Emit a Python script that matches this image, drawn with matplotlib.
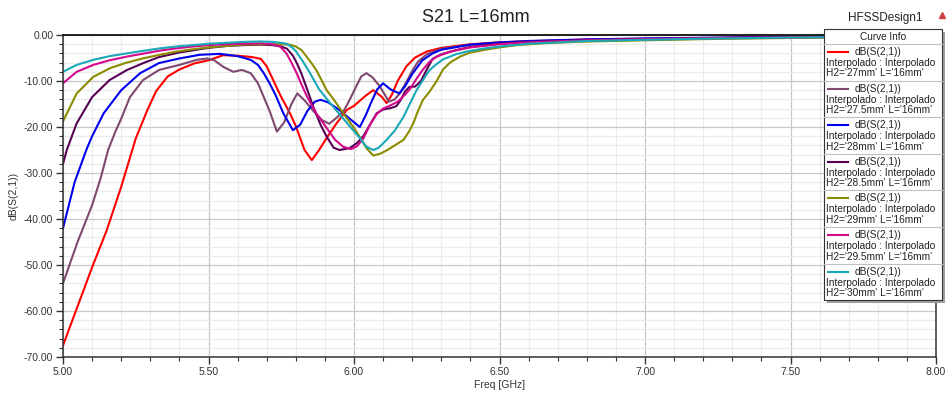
import matplotlib
matplotlib.use("Agg")
import matplotlib.pyplot as plt
from matplotlib.ticker import MultipleLocator, FormatStrFormatter
from matplotlib.lines import Line2D
from matplotlib.patches import Rectangle

plt.rcParams["font.family"] = ["Liberation Sans", "DejaVu Sans"]
plt.rcParams["axes.unicode_minus"] = False

# S21 traces (freq in GHz, magnitude in dB)
f_27 = [5.00, 5.05, 5.10, 5.15, 5.20, 5.25, 5.29, 5.32, 5.36, 5.40, 5.45, 5.50, 5.55,
        5.60, 5.65, 5.68, 5.70, 5.72, 5.75, 5.78, 5.80, 5.83, 5.855, 5.88, 5.91, 5.94,
        5.975, 6.00, 6.04, 6.066, 6.095, 6.112, 6.13, 6.15, 6.18, 6.21, 6.25, 6.30,
        6.40, 6.50, 6.60, 6.80, 7.00, 7.20, 7.50, 7.80, 8.00]
s21_27 = [-67.5, -59.0, -50.5, -42.5, -33.0, -22.5, -16.3, -12.2, -9.0, -7.5, -6.2, -5.5, -4.4,
          -4.5, -4.8, -5.2, -6.8, -9.5, -13.5, -17.0, -19.8, -25.0, -27.2, -25.0, -22.0, -19.2,
          -16.3, -15.4, -13.2, -12.0, -13.4, -14.8, -13.0, -10.0, -6.8, -4.9, -3.6, -2.8,
          -2.0, -1.6, -1.35, -1.0, -0.8, -0.65, -0.45, -0.32, -0.25]

f_275 = [5.00, 5.05, 5.10, 5.13, 5.155, 5.18, 5.20, 5.23, 5.275, 5.33, 5.40, 5.46, 5.495,
         5.52, 5.55, 5.585, 5.615, 5.645, 5.67, 5.69, 5.71, 5.735, 5.76, 5.785, 5.805, 5.83,
         5.86, 5.89, 5.915, 5.94, 5.965, 5.985, 6.005, 6.025, 6.043, 6.065, 6.09, 6.12,
         6.14, 6.16, 6.18, 6.20, 6.22, 6.25, 6.30, 6.40, 6.50, 6.60, 6.80, 7.00, 7.20,
         7.50, 7.80, 8.00]
s21_275 = [-54.0, -45.0, -37.0, -31.0, -25.0, -21.0, -18.2, -13.5, -9.8, -7.6, -6.5, -5.4, -5.1,
           -5.5, -6.9, -8.0, -7.6, -8.3, -10.5, -13.5, -16.5, -21.0, -19.0, -15.0, -12.7, -14.2,
           -16.5, -18.5, -19.3, -18.0, -16.5, -14.1, -11.5, -9.0, -8.3, -9.3, -11.3, -14.5,
           -14.0, -12.5, -10.2, -7.8, -5.8, -4.2, -3.0, -2.1, -1.7, -1.4, -1.05, -0.85, -0.7,
           -0.5, -0.35, -0.28]

f_28 = [5.00, 5.04, 5.08, 5.10, 5.14, 5.20, 5.265, 5.33, 5.40, 5.47, 5.54, 5.60, 5.645,
        5.67, 5.69, 5.71, 5.73, 5.757, 5.79, 5.815, 5.84, 5.865, 5.885, 5.91, 5.95, 5.985,
        6.02, 6.04, 6.06, 6.08, 6.10, 6.125, 6.155, 6.175, 6.20, 6.235, 6.27, 6.30, 6.40,
        6.50, 6.60, 6.80, 7.00, 7.20, 7.50, 7.80, 8.00]
s21_28 = [-42.0, -32.0, -25.0, -22.0, -17.0, -12.0, -8.3, -6.1, -5.1, -4.3, -4.1, -4.6, -5.4,
          -6.5, -8.3, -10.5, -13.0, -17.0, -20.7, -19.5, -16.5, -14.5, -14.1, -14.6, -16.3, -18.2,
          -20.0, -17.5, -14.5, -11.8, -10.5, -11.8, -12.7, -11.2, -8.5, -5.5, -4.0, -3.2, -2.1,
          -1.6, -1.3, -0.95, -0.75, -0.6, -0.42, -0.3, -0.22]

f_285 = [5.00, 5.013, 5.047, 5.10, 5.16, 5.22, 5.28, 5.33, 5.40, 5.45, 5.50, 5.56, 5.62,
         5.68, 5.72, 5.75, 5.77, 5.79, 5.805, 5.82, 5.84, 5.86, 5.885, 5.906, 5.93, 5.95,
         5.985, 6.01, 6.032, 6.055, 6.078, 6.10, 6.125, 6.145, 6.16, 6.175, 6.19, 6.21,
         6.23, 6.25, 6.27, 6.30, 6.35, 6.40, 6.50, 6.60, 6.80, 7.00, 7.20, 7.50, 7.80, 8.00]
s21_285 = [-28.0, -25.0, -19.2, -13.5, -9.8, -7.6, -6.0, -4.8, -3.8, -3.3, -2.8, -2.4, -2.2,
           -2.1, -2.2, -2.5, -3.0, -4.5, -6.3, -8.5, -12.0, -15.6, -19.5, -22.1, -24.5, -25.0,
           -24.6, -23.5, -22.0, -19.5, -17.0, -16.2, -15.9, -15.5, -14.2, -12.3, -11.3, -11.2,
           -10.0, -7.5, -5.2, -4.2, -3.3, -2.6, -1.9, -1.5, -1.1, -0.9, -0.7, -0.5, -0.35, -0.28]

f_29 = [5.00, 5.047, 5.104, 5.162, 5.219, 5.28, 5.333, 5.39, 5.447, 5.50, 5.56, 5.62, 5.68,
        5.75, 5.78, 5.80, 5.82, 5.837, 5.855, 5.872, 5.89, 5.906, 5.93, 5.963, 6.00, 6.02,
        6.043, 6.066, 6.09, 6.112, 6.14, 6.17, 6.19, 6.205, 6.22, 6.237, 6.26, 6.284, 6.306,
        6.33, 6.364, 6.40, 6.443, 6.50, 6.56, 6.65, 6.78, 7.00, 7.20, 7.50, 7.80, 8.00]
s21_29 = [-18.8, -12.7, -9.1, -7.2, -6.0, -5.0, -4.3, -3.6, -3.1, -2.7, -2.4, -2.1, -2.0,
          -2.0, -2.1, -2.5, -3.3, -4.7, -6.2, -7.8, -10.0, -12.0, -14.0, -17.0, -20.2, -22.2,
          -24.6, -26.2, -25.8, -25.1, -24.0, -22.8, -20.9, -19.0, -16.5, -14.1, -12.3, -10.0, -7.5,
          -6.0, -4.7, -3.8, -3.3, -2.7, -2.2, -1.8, -1.45, -1.15, -0.9, -0.65, -0.45, -0.38]

f_295 = [5.00, 5.047, 5.104, 5.16, 5.219, 5.28, 5.333, 5.39, 5.447, 5.50, 5.56, 5.62, 5.677,
         5.72, 5.746, 5.768, 5.785, 5.803, 5.82, 5.837, 5.87, 5.906, 5.935, 5.963, 5.99, 6.01,
         6.032, 6.055, 6.078, 6.10, 6.125, 6.15, 6.17, 6.192, 6.215, 6.237, 6.26, 6.284, 6.33,
         6.40, 6.50, 6.60, 6.80, 7.00, 7.20, 7.50, 7.80, 8.00]
s21_295 = [-10.5, -8.0, -6.5, -5.5, -4.7, -4.0, -3.4, -2.9, -2.5, -2.2, -2.0, -1.9, -1.8,
           -2.0, -2.5, -4.0, -6.0, -8.3, -10.8, -13.2, -17.0, -20.2, -22.8, -24.3, -24.8, -24.2,
           -22.5, -19.5, -17.2, -16.0, -15.3, -14.5, -13.3, -11.8, -9.5, -7.5, -5.8, -4.7, -3.6,
           -2.7, -2.0, -1.6, -1.15, -0.9, -0.7, -0.5, -0.35, -0.27]

f_30 = [5.00, 5.047, 5.104, 5.16, 5.219, 5.28, 5.333, 5.39, 5.447, 5.50, 5.56, 5.62, 5.677,
        5.72, 5.75, 5.768, 5.785, 5.80, 5.825, 5.849, 5.88, 5.918, 5.95, 5.986, 6.015, 6.043,
        6.066, 6.085, 6.112, 6.14, 6.17, 6.19, 6.215, 6.24, 6.26, 6.284, 6.306, 6.35, 6.387,
        6.44, 6.50, 6.60, 6.70, 6.80, 7.00, 7.20, 7.50, 7.80, 8.00]
s21_30 = [-8.0, -6.5, -5.4, -4.6, -4.0, -3.4, -2.9, -2.5, -2.2, -1.9, -1.7, -1.5, -1.4,
          -1.5, -1.7, -1.9, -2.6, -3.5, -5.8, -8.3, -11.8, -14.8, -17.2, -19.9, -22.0, -24.3,
          -25.0, -24.5, -22.8, -20.8, -17.8, -15.2, -12.0, -9.5, -7.6, -6.3, -5.3, -4.2, -3.6,
          -3.0, -2.5, -1.9, -1.6, -1.3, -1.05, -0.8, -0.55, -0.4, -0.32]

freqs = [f_27, f_275, f_28, f_285, f_29, f_295, f_30]
traces = [s21_27, s21_275, s21_28, s21_285, s21_29, s21_295, s21_30]
h2_values = ["27mm", "27.5mm", "28mm", "28.5mm", "29mm", "29.5mm", "30mm"]
colors = ["#ff0000", "#7f4870", "#0000ee", "#560056", "#8b8b00", "#d4088c", "#1aa8b8"]

W, H = 951, 394


def fx(px):
    return px / W


def fy(py):
    return 1 - py / H


fig = plt.figure(figsize=(W / 100, H / 100), dpi=100)
ax = fig.add_axes([fx(63), fy(357), fx(936 - 63), (357 - 35) / H])

for f, s, c in zip(freqs, traces, colors):
    ax.plot(f, s, color=c, lw=1.5, solid_joinstyle="round")

ax.set_xlim(5.0, 8.0)
ax.set_ylim(-70, 0)
ax.xaxis.set_major_locator(MultipleLocator(0.5))
ax.xaxis.set_minor_locator(MultipleLocator(0.1))
ax.yaxis.set_major_locator(MultipleLocator(10))
ax.yaxis.set_minor_locator(MultipleLocator(2))
ax.xaxis.set_major_formatter(FormatStrFormatter("%.2f"))
ax.yaxis.set_major_formatter(FormatStrFormatter("%.2f"))
ax.set_axisbelow(True)
ax.grid(which="major", color="#c8c8c8", lw=0.9)
ax.grid(which="minor", color="#ebebeb", lw=0.8)
ax.tick_params(which="major", direction="out", length=5, width=1, color="#333333",
               labelsize=7.5, labelcolor="#333333", pad=2)
ax.tick_params(which="minor", direction="out", length=3, width=0.8, color="#333333")
for side in ["left", "bottom", "right"]:
    ax.spines[side].set_color("#333333")
    ax.spines[side].set_linewidth(1.1)
ax.spines["top"].set_color("#111111")
ax.spines["top"].set_linewidth(1.3)

ax.set_xlabel("Freq [GHz]", fontsize=7.5, color="#333333", labelpad=2)
fig.text(fx(14), fy(196), "dB(S(2,1))", rotation=90, fontsize=7.5, color="#333333",
         ha="center", va="center")

fig.text(fx(476), fy(18), "S21 L=16mm", fontsize=13, ha="center", va="center", color="#222222")
fig.text(fx(885), fy(18), "HFSSDesign1", fontsize=8.5, ha="center", va="center", color="#222222")
fig.add_artist(Line2D([fx(942)], [fy(15)], marker="^", markersize=5, color="#d04040",
                      transform=fig.transFigure))

# curve info box
box_l, box_r, box_t, box_b = 824, 942, 29, 300
fig.add_artist(Rectangle((fx(box_l + 3), fy(box_b + 3)), fx(box_r - box_l), (box_b - box_t) / H,
                         transform=fig.transFigure, facecolor="#a0a0a0", edgecolor="none"))
fig.add_artist(Rectangle((fx(box_l), fy(box_b)), fx(box_r - box_l), (box_b - box_t) / H,
                         transform=fig.transFigure, facecolor="white", edgecolor="#333333", lw=0.8))
fig.text(fx((box_l + box_r) / 2), fy(37), "Curve Info", fontsize=7.2, ha="center", va="center",
         color="#222222")
row_h = 36.6
for i, (h2, c) in enumerate(zip(h2_values, colors)):
    top = 44 + i * row_h
    fig.add_artist(Line2D([fx(box_l), fx(box_r)], [fy(top), fy(top)], color="#c0c0c0", lw=0.8,
                          transform=fig.transFigure))
    fig.add_artist(Line2D([fx(828), fx(848)], [fy(top + 8), fy(top + 8)], color=c, lw=1.5,
                          transform=fig.transFigure))
    fig.text(fx(855), fy(top + 8), "dB(S(2,1))", fontsize=7.3, va="center", color="#222222")
    fig.text(fx(826), fy(top + 19), "Interpolado : Interpolado", fontsize=7.3, va="center",
             color="#222222")
    fig.text(fx(826), fy(top + 29.5), f"H2='{h2}' L='16mm'", fontsize=7.3, va="center",
             color="#222222")

fig.savefig("out.png", dpi=100)
